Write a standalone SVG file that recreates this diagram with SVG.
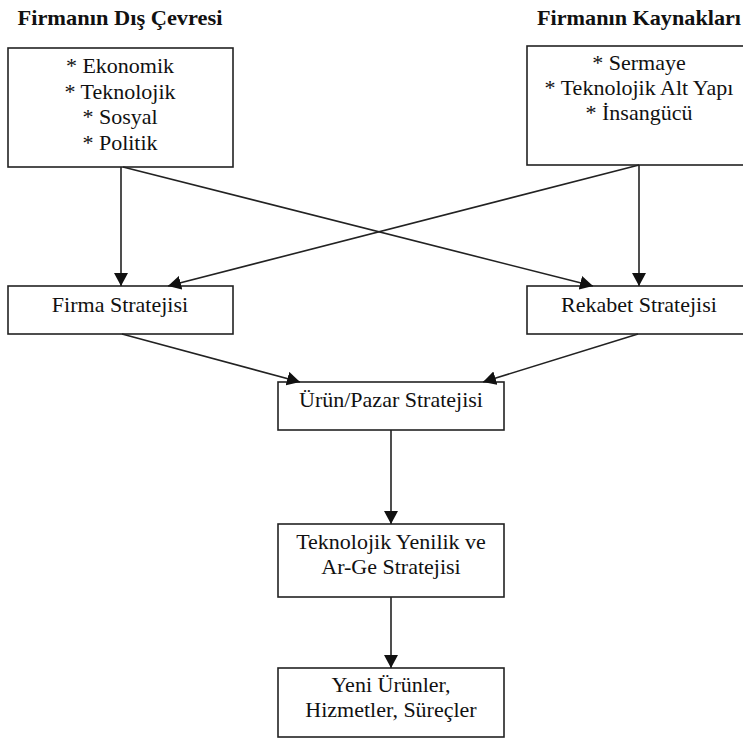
<svg xmlns="http://www.w3.org/2000/svg" width="743" height="740" viewBox="0 0 743 740">
<style>
.box{fill:#fff;stroke:#222;stroke-width:1.6}
.t{font-family:"Liberation Serif","Times New Roman",serif;font-size:22px;fill:#111;text-anchor:middle}
.h{font-family:"Liberation Serif","Times New Roman",serif;font-size:21px;font-weight:bold;fill:#111;text-anchor:middle}
.c{stroke:#222;stroke-width:1.6;fill:none;marker-end:url(#ah)}
</style>
<defs>
<marker id="ah" markerUnits="userSpaceOnUse" markerWidth="14" markerHeight="14" refX="13" refY="7" orient="auto">
<path d="M0,0 L13,7 L0,14 z" fill="#111"/>
</marker>
</defs>
<g id="title-dis">
<text class="h" x="120" y="25" textLength="205" lengthAdjust="spacingAndGlyphs">Firmanın Dış Çevresi</text>
</g>
<g id="title-kaynak">
<text class="h" x="639" y="25" textLength="204" lengthAdjust="spacingAndGlyphs">Firmanın Kaynakları</text>
</g>
<g id="dis-cevre">
<rect class="box" x="8" y="48" width="225" height="119"/>
<text class="t" x="120" y="73">* Ekonomik</text>
<text class="t" x="120" y="99">* Teknolojik</text>
<text class="t" x="120" y="124">* Sosyal</text>
<text class="t" x="120" y="150">* Politik</text>
</g>
<g id="kaynaklar">
<rect class="box" x="527" y="46" width="224" height="119"/>
<text class="t" x="639" y="70">* Sermaye</text>
<text class="t" x="639" y="95">* Teknolojik Alt Yapı</text>
<text class="t" x="639" y="120">* İnsangücü</text>
</g>
<g id="firma">
<rect class="box" x="8" y="286" width="225" height="48"/>
<text class="t" x="120" y="312">Firma Stratejisi</text>
</g>
<g id="rekabet">
<rect class="box" x="527" y="286" width="224" height="48"/>
<text class="t" x="639" y="312">Rekabet Stratejisi</text>
</g>
<g id="urun">
<rect class="box" x="278" y="382" width="226" height="48"/>
<text class="t" x="391" y="407">Ürün/Pazar Stratejisi</text>
</g>
<g id="teknoloji">
<rect class="box" x="278" y="524" width="226" height="73"/>
<text class="t" x="391" y="549">Teknolojik Yenilik ve</text>
<text class="t" x="391" y="574">Ar-Ge Stratejisi</text>
</g>
<g id="yeni">
<rect class="box" x="278" y="668" width="226" height="69"/>
<text class="t" x="391" y="692">Yeni Ürünler,</text>
<text class="t" x="391" y="717">Hizmetler, Süreçler</text>
</g>
<g id="connectors">
<line class="c" x1="121" y1="167" x2="121" y2="286"/>
<line class="c" x1="123" y1="167" x2="593" y2="286"/>
<line class="c" x1="639" y1="165" x2="168" y2="286"/>
<line class="c" x1="639" y1="165" x2="639" y2="286"/>
<line class="c" x1="122" y1="334" x2="300" y2="382"/>
<line class="c" x1="638" y1="334" x2="483" y2="382"/>
<line class="c" x1="391" y1="430" x2="391" y2="524"/>
<line class="c" x1="391" y1="597" x2="391" y2="668"/>
</g>
</svg>
